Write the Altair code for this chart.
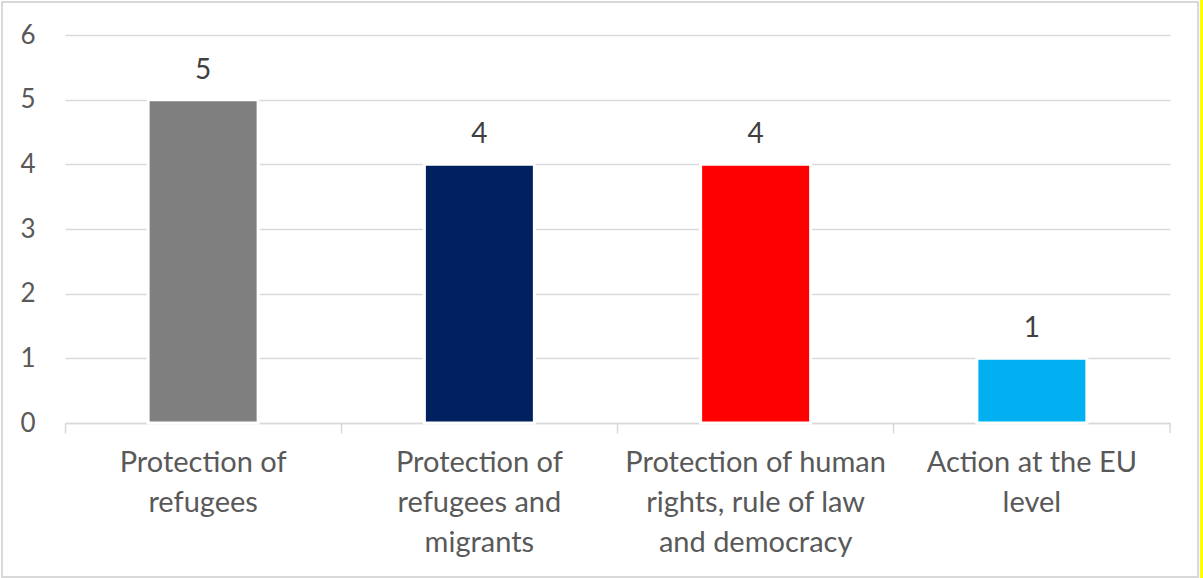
import altair as alt
import pandas as pd

# Category labels ("|" marks a line break in the axis label)
categories = [
    "Protection of|refugees",
    "Protection of|refugees and|migrants",
    "Protection of human|rights, rule of law|and democracy",
    "Action at the EU|level",
]
values = [5, 4, 4, 1]
colors = ["#7f7f7f", "#002060", "#ff0000", "#00b0f0"]
y_ticks = [0, 1, 2, 3, 4, 5, 6]

df = pd.DataFrame({"category": categories, "value": values, "color": colors})

W, H = 1105, 388
FONT = "Lato"
GRID = "#d9d9d9"

x_enc = alt.X(
    "category:N",
    sort=categories,
    scale=alt.Scale(paddingInner=0, paddingOuter=0),
    axis=alt.Axis(
        title=None,
        labelAngle=0,
        bandPosition=0,
        labelOffset=0,
        ticks=True,
        tickSize=10,
        tickColor=GRID,
        tickWidth=1.5,
        domainColor=GRID,
        domainWidth=1.5,
        labelExpr="split(datum.label, '|')",
        labelFont=FONT,
        labelFontSize=29,
        labelColor="#595959",
        labelLineHeight=40,
        labelPadding=15,
        labelBaseline="top",
        labelLimit=0,
        labelBound=False,
        labelOverlap=False,
        grid=False,
    ),
)

y_enc = alt.Y(
    "value:Q",
    scale=alt.Scale(domain=[0, 6], nice=False),
    axis=alt.Axis(
        title=None,
        values=y_ticks,
        format="d",
        ticks=False,
        domain=False,
        grid=True,
        gridColor=GRID,
        gridWidth=1.5,
        labelFont=FONT,
        labelFontSize=26,
        labelColor="#595959",
        labelPadding=30,
    ),
)

bars = alt.Chart(df).mark_bar(
    width=110, stroke="white", strokeWidth=3
).encode(
    x=x_enc,
    y=y_enc,
    color=alt.Color("color:N", scale=None),
)

labels = alt.Chart(df).mark_text(
    font=FONT, fontSize=28, color="#404040", baseline="middle", dy=-29
).encode(
    x=alt.X("category:N", sort=categories),
    y="value:Q",
    text="value:Q",
)

# closing tick at the right end of the category axis
end_tick = alt.Chart(pd.DataFrame({"k": [0]})).mark_rule(
    color=GRID, strokeWidth=1.5
).encode(x=alt.value(W), y=alt.value(H), y2=alt.value(H + 10))

# outer chart frame and right-edge stripe
frame = alt.Chart(pd.DataFrame({"k": [0]})).mark_rect(
    fill="transparent", stroke=GRID, strokeWidth=2
).encode(x=alt.value(-63), x2=alt.value(1133), y=alt.value(-33), y2=alt.value(542))

stripe = alt.Chart(pd.DataFrame({"k": [0]})).mark_rect(
    fill="#ffff00"
).encode(x=alt.value(1135), x2=alt.value(1138), y=alt.value(-35), y2=alt.value(543))

chart = alt.layer(frame, stripe, bars, labels, end_tick).properties(
    width=W,
    height=H,
    padding={"left": 65, "top": 35, "right": 33, "bottom": 155},
    autosize=alt.AutoSizeParams(type="none"),
).configure_view(stroke=None)

chart.save("out.html", embed_options={"renderer": "svg", "actions": False})
